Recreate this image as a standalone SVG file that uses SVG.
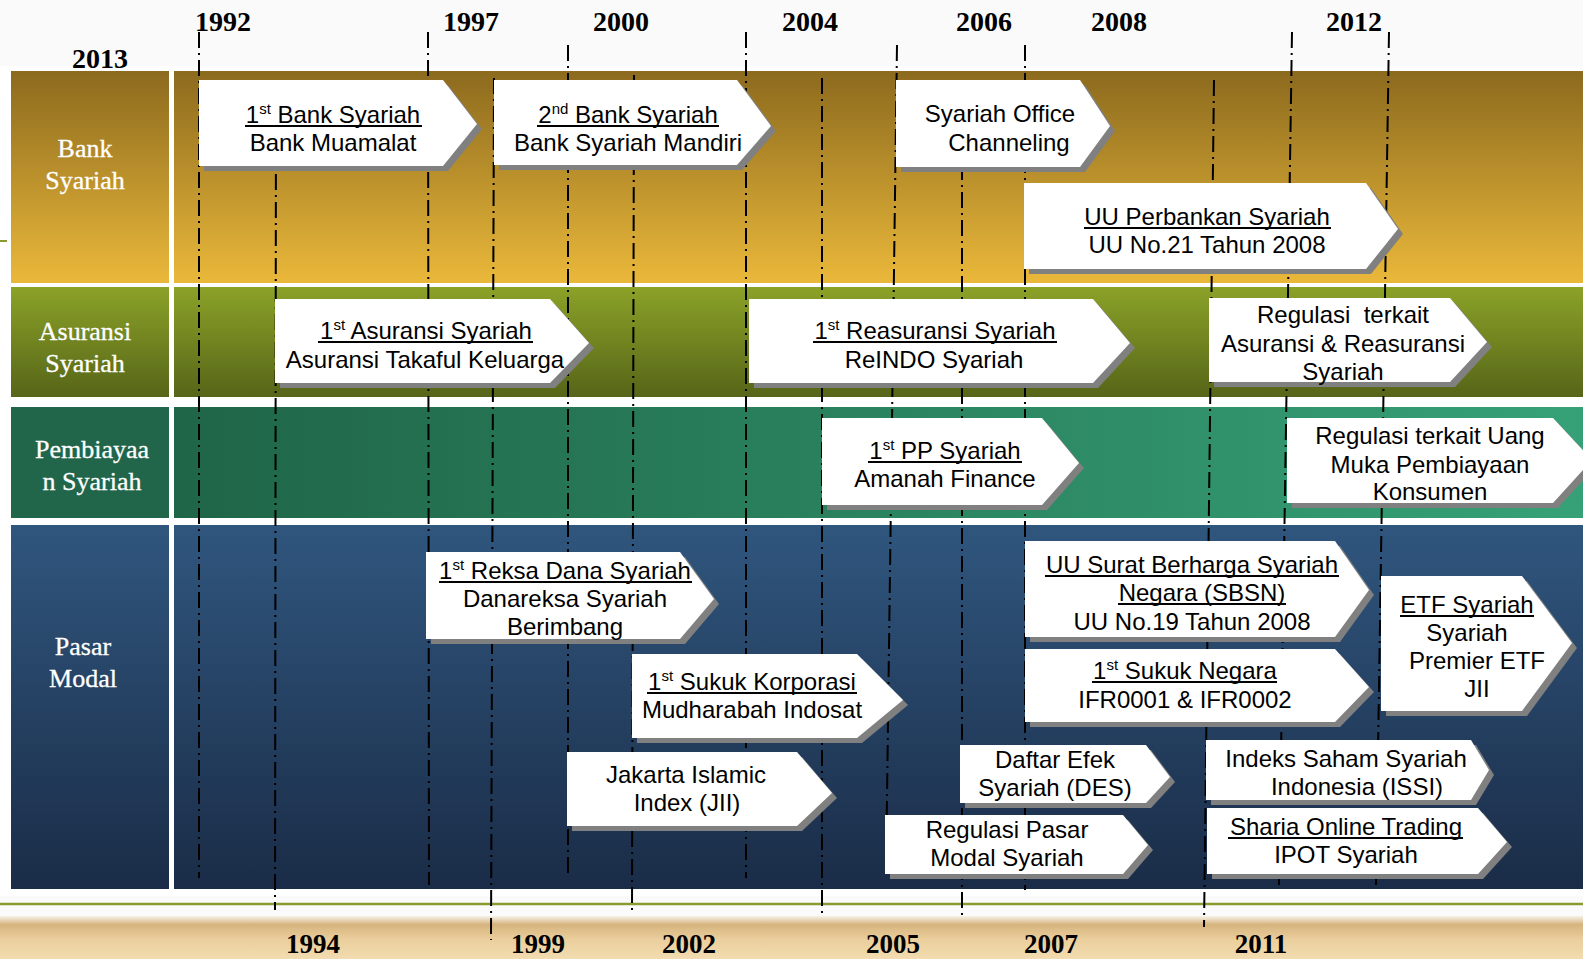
<svg xmlns="http://www.w3.org/2000/svg" width="1583" height="959" viewBox="0 0 1583 959">
<defs>
<linearGradient id="gBank" x1="0" y1="0" x2="0" y2="1"><stop offset="0" stop-color="#8c6a1e"/><stop offset="1" stop-color="#eab83a"/></linearGradient>
<linearGradient id="gAsu" x1="0" y1="0" x2="0" y2="1"><stop offset="0" stop-color="#8ba228"/><stop offset="1" stop-color="#566518"/></linearGradient>
<linearGradient id="gPem" x1="0" y1="0" x2="1" y2="0"><stop offset="0" stop-color="#1f6547"/><stop offset="1" stop-color="#36a177"/></linearGradient>
<linearGradient id="gPas" x1="0" y1="0" x2="0" y2="1"><stop offset="0" stop-color="#30567e"/><stop offset="1" stop-color="#1a2c47"/></linearGradient>
<linearGradient id="gFoot" x1="0" y1="0" x2="0" y2="1"><stop offset="0" stop-color="#f6f2ea"/><stop offset="0.2" stop-color="#d6b47e"/><stop offset="0.55" stop-color="#ebcf9d"/><stop offset="1" stop-color="#f2dcb0"/></linearGradient>
<style>
.yr{font-family:"Liberation Serif","Times New Roman",serif;font-weight:bold;font-size:28px;fill:#000;text-anchor:middle}
.yb{font-family:"Liberation Serif","Times New Roman",serif;font-weight:bold;font-size:27px;fill:#000;text-anchor:middle}
.rl{font-family:"Liberation Serif","Times New Roman",serif;font-size:26px;fill:#fff;text-anchor:middle;stroke:#fff;stroke-width:0.3}
.t{font-family:"Liberation Sans",Arial,sans-serif;font-size:24px;fill:#000;text-anchor:middle;white-space:pre}
.sup{font-size:15px}
.box{fill:#fff}
.sh{fill:#808080}
.ul{stroke:#000;stroke-width:1.8}
.tl{stroke:#000;stroke-width:2;stroke-dasharray:16 5 2 5;fill:none}
</style>
</defs>
<rect x="0" y="0" width="1583" height="959" fill="#fafafa"/>
<rect x="0" y="66" width="1583" height="830" fill="#fff"/>
<g id="bands">
<rect x="11" y="71" width="158" height="212" fill="url(#gBank)"/>
<rect x="174" y="71" width="1409" height="212" fill="url(#gBank)"/>
<rect x="11" y="287" width="158" height="110" fill="url(#gAsu)"/>
<rect x="174" y="287" width="1409" height="110" fill="url(#gAsu)"/>
<rect x="11" y="407" width="158" height="111" fill="#21664a"/>
<rect x="174" y="407" width="1409" height="111" fill="url(#gPem)"/>
<rect x="11" y="525" width="158" height="364" fill="url(#gPas)"/>
<rect x="174" y="525" width="1409" height="364" fill="url(#gPas)"/>
<rect x="0" y="916" width="1583" height="43" fill="url(#gFoot)"/>
<line x1="0" y1="904" x2="1583" y2="904" stroke="#8a9b2e" stroke-width="2.5"/>
<line x1="0" y1="241" x2="7" y2="241" stroke="#8a9b2e" stroke-width="2"/>
</g>
<g id="labels">
<text class="yr" x="100" y="68">2013</text>
<text class="yr" x="223" y="31">1992</text>
<text class="yr" x="471" y="31">1997</text>
<text class="yr" x="621" y="31">2000</text>
<text class="yr" x="810" y="31">2004</text>
<text class="yr" x="984" y="31">2006</text>
<text class="yr" x="1119" y="31">2008</text>
<text class="yr" x="1354" y="31">2012</text>
<text class="yb" x="313" y="953">1994</text>
<text class="yb" x="538" y="953">1999</text>
<text class="yb" x="689" y="953">2002</text>
<text class="yb" x="893" y="953">2005</text>
<text class="yb" x="1051" y="953">2007</text>
<text class="yb" x="1261" y="953">2011</text>
<text class="rl" x="85" y="157">Bank</text>
<text class="rl" x="85" y="189">Syariah</text>
<text class="rl" x="85" y="340">Asuransi</text>
<text class="rl" x="85" y="372">Syariah</text>
<text class="rl" x="92" y="458">Pembiayaa</text>
<text class="rl" x="92" y="490">n Syariah</text>
<text class="rl" x="83" y="655">Pasar</text>
<text class="rl" x="83" y="687">Modal</text>
</g>
<g id="connectors">
<line class="tl" x1="199" y1="32" x2="199" y2="878"/>
<line class="tl" x1="276" y1="90" x2="275" y2="910"/>
<line class="tl" x1="428" y1="32" x2="429" y2="885"/>
<line class="tl" x1="494" y1="78" x2="491" y2="940"/>
<line class="tl" x1="568" y1="45" x2="568" y2="873"/>
<line class="tl" x1="634" y1="75" x2="632" y2="915"/>
<line class="tl" x1="746" y1="32" x2="746" y2="878"/>
<line class="tl" x1="822" y1="78" x2="822" y2="915"/>
<line class="tl" x1="897" y1="45" x2="886" y2="873"/>
<line class="tl" x1="962" y1="80" x2="962" y2="915"/>
<line class="tl" x1="1025" y1="45" x2="1025" y2="890"/>
<line class="tl" x1="1214" y1="80" x2="1204" y2="927"/>
<line class="tl" x1="1292" y1="32" x2="1279" y2="885"/>
<line class="tl" x1="1389" y1="32" x2="1376" y2="885"/>
</g>
<g id="n1">
<polygon class="sh" points="204,85 448,85 482,129 448,171 204,171"/>
<polygon class="box" points="199,80 443,80 477,124 443,166 199,166"/>
<text class="t" x="333" y="123">1<tspan class="sup" dy="-9">st</tspan><tspan dy="9"> Bank Syariah</tspan></text>
<line class="ul" x1="245" y1="126" x2="422" y2="126"/>
<text class="t" x="333" y="151">Bank Muamalat</text>
</g>
<g id="n2">
<polygon class="sh" points="499,85 742,85 776,131 742,170 499,170"/>
<polygon class="box" points="494,80 737,80 771,126 737,165 494,165"/>
<text class="t" x="628" y="123">2<tspan class="sup" dy="-9">nd</tspan><tspan dy="9"> Bank Syariah</tspan></text>
<line class="ul" x1="537" y1="126" x2="719" y2="126"/>
<text class="t" x="628" y="151">Bank Syariah Mandiri</text>
</g>
<g id="n3">
<polygon class="sh" points="901,85 1085,85 1115,131 1085,172 901,172"/>
<polygon class="box" points="896,80 1080,80 1110,126 1080,167 896,167"/>
<text class="t" x="1000" y="122">Syariah Office</text>
<text class="t" x="1009" y="151">Channeling</text>
</g>
<g id="n4">
<polygon class="sh" points="1029,188 1371,188 1403,234 1371,274 1029,274"/>
<polygon class="box" points="1024,183 1366,183 1398,229 1366,269 1024,269"/>
<text class="t" x="1207" y="225">UU Perbankan Syariah</text>
<line class="ul" x1="1084" y1="228" x2="1331" y2="228"/>
<text class="t" x="1207" y="253">UU No.21 Tahun 2008</text>
</g>
<g id="n5">
<polygon class="sh" points="280,304 555,304 594,348 555,388 280,388"/>
<polygon class="box" points="275,299 550,299 589,343 550,383 275,383"/>
<text class="t" x="426" y="339">1<tspan class="sup" dy="-9">st</tspan><tspan dy="9"> Asuransi Syariah</tspan></text>
<line class="ul" x1="318" y1="342" x2="533" y2="342"/>
<text class="t" x="425" y="368">Asuransi Takaful Keluarga</text>
</g>
<g id="n6">
<polygon class="sh" points="754,304 1098,304 1135,348 1098,388 754,388"/>
<polygon class="box" points="749,299 1093,299 1130,343 1093,383 749,383"/>
<text class="t" x="935" y="339">1<tspan class="sup" dy="-9">st</tspan><tspan dy="9"> Reasuransi Syariah</tspan></text>
<line class="ul" x1="813" y1="342" x2="1057" y2="342"/>
<text class="t" x="934" y="368">ReINDO Syariah</text>
</g>
<g id="n7">
<polygon class="sh" points="1214,303 1455,303 1492,347 1455,387 1214,387"/>
<polygon class="box" points="1209,298 1450,298 1487,342 1450,382 1209,382"/>
<text class="t" x="1343" y="323">Regulasi  terkait</text>
<text class="t" x="1343" y="352">Asuransi &amp; Reasuransi</text>
<text class="t" x="1343" y="380">Syariah</text>
</g>
<g id="n8">
<polygon class="sh" points="827,423 1047,423 1084,468 1047,510 827,510"/>
<polygon class="box" points="822,418 1042,418 1079,463 1042,505 822,505"/>
<text class="t" x="945" y="459">1<tspan class="sup" dy="-9">st</tspan><tspan dy="9"> PP Syariah</tspan></text>
<line class="ul" x1="868" y1="462" x2="1022" y2="462"/>
<text class="t" x="945" y="487">Amanah Finance</text>
</g>
<g id="n9">
<polygon class="sh" points="1292,423 1558,423 1597,465 1558,508 1292,508"/>
<polygon class="box" points="1287,418 1553,418 1592,460 1553,503 1287,503"/>
<text class="t" x="1430" y="444">Regulasi terkait Uang</text>
<text class="t" x="1430" y="473">Muka Pembiayaan</text>
<text class="t" x="1430" y="500">Konsumen</text>
</g>
<g id="n10">
<polygon class="sh" points="431,557 685,557 719,604 685,644 431,644"/>
<polygon class="box" points="426,552 680,552 714,599 680,639 426,639"/>
<text class="t" x="565" y="579">1<tspan class="sup" dy="-9">st</tspan><tspan dy="9"> Reksa Dana Syariah</tspan></text>
<line class="ul" x1="439" y1="582" x2="692" y2="582"/>
<text class="t" x="565" y="607">Danareksa Syariah</text>
<text class="t" x="565" y="635">Berimbang</text>
</g>
<g id="n11">
<polygon class="sh" points="637,659 862,659 908,705 862,743 637,743"/>
<polygon class="box" points="632,654 857,654 903,700 857,738 632,738"/>
<text class="t" x="752" y="690">1<tspan class="sup" dy="-9">st</tspan><tspan dy="9"> Sukuk Korporasi</tspan></text>
<line class="ul" x1="647" y1="693" x2="857" y2="693"/>
<text class="t" x="752" y="718">Mudharabah Indosat</text>
</g>
<g id="n12">
<polygon class="sh" points="572,757 802,757 837,798 802,831 572,831"/>
<polygon class="box" points="567,752 797,752 832,793 797,826 567,826"/>
<text class="t" x="686" y="783">Jakarta Islamic</text>
<text class="t" x="687" y="811">Index (JII)</text>
</g>
<g id="n13">
<polygon class="sh" points="1030,546 1340,546 1374,595 1340,642 1030,642"/>
<polygon class="box" points="1025,541 1335,541 1369,590 1335,637 1025,637"/>
<text class="t" x="1192" y="573">UU Surat Berharga Syariah</text>
<line class="ul" x1="1045" y1="576" x2="1339" y2="576"/>
<text class="t" x="1202" y="601">Negara (SBSN)</text>
<line class="ul" x1="1118" y1="604" x2="1286" y2="604"/>
<text class="t" x="1192" y="630">UU No.19 Tahun 2008</text>
</g>
<g id="n14">
<polygon class="sh" points="1030,654 1340,654 1374,692 1340,727 1030,727"/>
<polygon class="box" points="1025,649 1335,649 1369,687 1335,722 1025,722"/>
<text class="t" x="1185" y="679">1<tspan class="sup" dy="-9">st</tspan><tspan dy="9"> Sukuk Negara</tspan></text>
<line class="ul" x1="1092" y1="682" x2="1277" y2="682"/>
<text class="t" x="1185" y="708">IFR0001 &amp; IFR0002</text>
</g>
<g id="n15">
<polygon class="sh" points="1386,581 1527,581 1577,648 1527,716 1386,716"/>
<polygon class="box" points="1381,576 1522,576 1572,643 1522,711 1381,711"/>
<text class="t" x="1467" y="613">ETF Syariah</text>
<line class="ul" x1="1400" y1="616" x2="1534" y2="616"/>
<text class="t" x="1467" y="641">Syariah</text>
<text class="t" x="1477" y="669">Premier ETF</text>
<text class="t" x="1477" y="697">JII</text>
</g>
<g id="n16">
<polygon class="sh" points="965,750 1151,750 1175,782 1151,808 965,808"/>
<polygon class="box" points="960,745 1146,745 1170,777 1146,803 960,803"/>
<text class="t" x="1055" y="768">Daftar Efek</text>
<text class="t" x="1055" y="796">Syariah (DES)</text>
</g>
<g id="n17">
<polygon class="sh" points="890,820 1128,820 1153,850 1128,879 890,879"/>
<polygon class="box" points="885,815 1123,815 1148,845 1123,874 885,874"/>
<text class="t" x="1007" y="838">Regulasi Pasar</text>
<text class="t" x="1007" y="866">Modal Syariah</text>
</g>
<g id="n18">
<polygon class="sh" points="1211,745 1476,745 1494,775 1476,805 1211,805"/>
<polygon class="box" points="1206,740 1471,740 1489,770 1471,800 1206,800"/>
<text class="t" x="1346" y="767">Indeks Saham Syariah</text>
<text class="t" x="1357" y="795">Indonesia (ISSI)</text>
</g>
<g id="n19">
<polygon class="sh" points="1212,813 1483,813 1512,847 1483,879 1212,879"/>
<polygon class="box" points="1207,808 1478,808 1507,842 1478,874 1207,874"/>
<text class="t" x="1346" y="835">Sharia Online Trading</text>
<line class="ul" x1="1228" y1="838" x2="1463" y2="838"/>
<text class="t" x="1346" y="863">IPOT Syariah</text>
</g>
</svg>
